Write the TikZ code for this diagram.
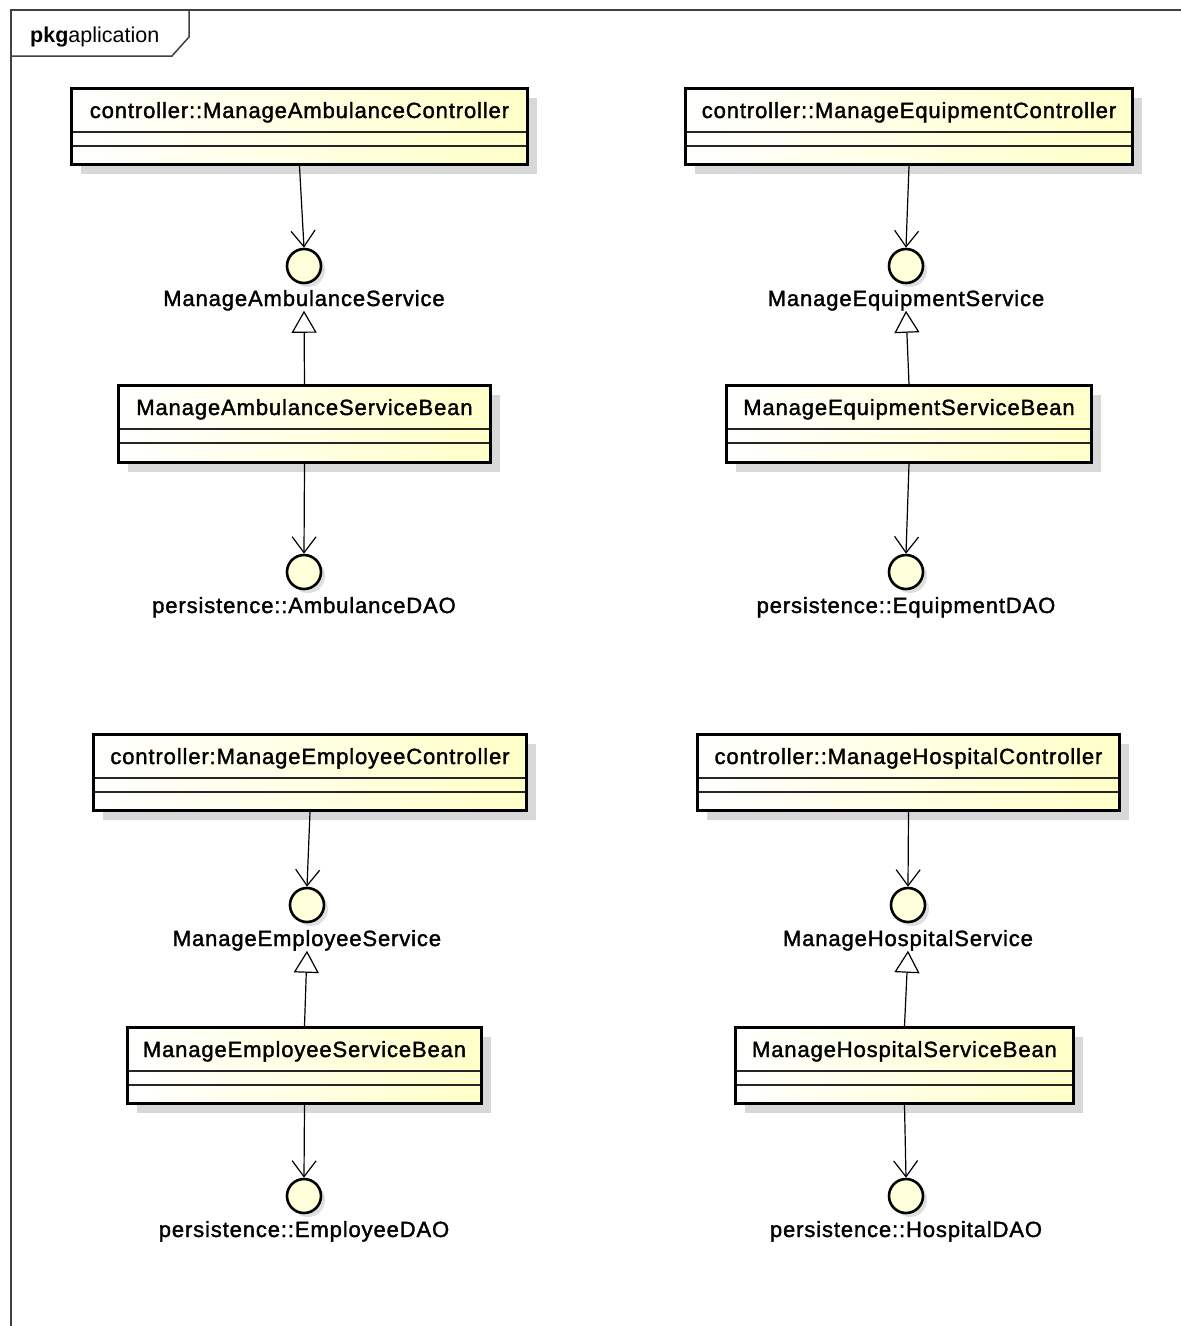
\documentclass[tikz,border=0pt]{standalone}
\usepackage{fontspec}
\setmainfont{Liberation Sans}
\newfontfamily\umlfont[LetterSpace=4,FakeBold=1.6]{Liberation Sans}
\usetikzlibrary{arrows.meta,shadows}

\definecolor{classyellow}{HTML}{FFFFC8}
\definecolor{ifaceyellow}{HTML}{FFFFDC}
\definecolor{shadowgrey}{HTML}{D8D8D8}
\definecolor{framegrey}{HTML}{404040}

\begin{document}
\begin{tikzpicture}[x=1pt,y=-1pt,
  classbox/.style={rectangle, draw=black, line width=3pt, inner sep=0pt,
    left color=white, right color=classyellow,
    drop shadow={shadow xshift=9pt, shadow yshift=-9pt, fill=shadowgrey, opacity=1},
    path picture={
      \draw[line width=1.4pt, black!85]
        ([yshift=-43.5pt]path picture bounding box.north west) --
        ([yshift=-43.5pt]path picture bounding box.north east);
      \draw[line width=1.4pt, black!85]
        ([yshift=-57.5pt]path picture bounding box.north west) --
        ([yshift=-57.5pt]path picture bounding box.north east);
    }},
  classname/.style={anchor=base, inner sep=0pt, font=\umlfont\fontsize{22}{24}\selectfont},
  iface/.style={circle, draw=black, line width=2.6pt, fill=ifaceyellow, inner sep=0pt,
    minimum size=34pt,
    drop shadow={shadow xshift=4pt, shadow yshift=-4pt, fill=shadowgrey, opacity=0.8}},
  ifacename/.style={anchor=base, inner sep=0pt, font=\umlfont\fontsize{22}{24}\selectfont},
  dep/.style={draw, line width=1.2pt,
    -{Straight Barb[length=16pt, width=24pt, line width=1.2pt]}},
  real/.style={draw, line width=1.2pt,
    -{Triangle[open, length=22pt, width=25pt, line width=1.2pt, fill=white]}},
  frameline/.style={draw=framegrey, line width=1.5pt}
]
\useasboundingbox (0,0) rectangle (1181,1326);
\fill[white] (0,0) rectangle (1181,1326);

% package frame and its tab
\draw[frameline] (11,1330) -- (11,10) -- (1185,10);
\draw[frameline] (11,56) -- (172,56) -- (189,37) -- (189,10);
\node[anchor=base west, inner sep=0pt, font=\fontsize{21.5}{24}\selectfont] (pkgname) at (30,42)
  {\textbf{pkg}aplication};

% ---------- ambulance ----------
\node[classbox, minimum width=456pt, minimum height=76pt] (ambCtrl) at (299.5,126.5) {};
\node[classname] (ambCtrlName) at ([yshift=-31pt]ambCtrl.north) {controller::ManageAmbulanceController};
\node[iface] (ambSvc) at (304,266) {};
\node[ifacename] (ambSvcName) at ([yshift=-40pt]ambSvc.center) {ManageAmbulanceService};
\node[classbox, minimum width=372pt, minimum height=77pt] (ambBean) at (304.5,424) {};
\node[classname] (ambBeanName) at ([yshift=-31pt]ambBean.north) {ManageAmbulanceServiceBean};
\node[iface] (ambDao) at (304,572) {};
\node[ifacename] (ambDaoName) at ([yshift=-41pt]ambDao.center) {persistence::AmbulanceDAO};

\draw[dep] (ambCtrl.south) -- (ambSvc.north);
\draw[real] (ambBean.north) -- (ambSvcName.south);
\draw[dep] (ambBean.south) -- (ambDao.north);

% ---------- equipment ----------
\node[classbox, minimum width=447pt, minimum height=76pt] (eqCtrl) at (909,126.5) {};
\node[classname] (eqCtrlName) at ([yshift=-31pt]eqCtrl.north) {controller::ManageEquipmentController};
\node[iface] (eqSvc) at (906,266) {};
\node[ifacename] (eqSvcName) at ([yshift=-40pt]eqSvc.center) {ManageEquipmentService};
\node[classbox, minimum width=365pt, minimum height=77pt] (eqBean) at (909,424) {};
\node[classname] (eqBeanName) at ([yshift=-31pt]eqBean.north) {ManageEquipmentServiceBean};
\node[iface] (eqDao) at (906,572) {};
\node[ifacename] (eqDaoName) at ([yshift=-41pt]eqDao.center) {persistence::EquipmentDAO};

\draw[dep] (eqCtrl.south) -- (eqSvc.north);
\draw[real] (eqBean.north) -- (eqSvcName.south);
\draw[dep] (eqBean.south) -- (eqDao.north);

% ---------- employee ----------
\node[classbox, minimum width=433pt, minimum height=76pt] (empCtrl) at (310,772.5) {};
\node[classname] (empCtrlName) at ([yshift=-31pt]empCtrl.north) {controller:ManageEmployeeController};
\node[iface] (empSvc) at (307,905) {};
\node[ifacename] (empSvcName) at ([yshift=-41pt]empSvc.center) {ManageEmployeeService};
\node[classbox, minimum width=354pt, minimum height=76pt] (empBean) at (304.5,1065.5) {};
\node[classname] (empBeanName) at ([yshift=-31pt]empBean.north) {ManageEmployeeServiceBean};
\node[iface] (empDao) at (304,1196) {};
\node[ifacename] (empDaoName) at ([yshift=-41pt]empDao.center) {persistence::EmployeeDAO};

\draw[dep] (empCtrl.south) -- (empSvc.north);
\draw[real] (empBean.north) -- (empSvcName.south);
\draw[dep] (empBean.south) -- (empDao.north);

% ---------- hospital ----------
\node[classbox, minimum width=422pt, minimum height=76pt] (hosCtrl) at (908.5,772.5) {};
\node[classname] (hosCtrlName) at ([yshift=-31pt]hosCtrl.north) {controller::ManageHospitalController};
\node[iface] (hosSvc) at (908,905) {};
\node[ifacename] (hosSvcName) at ([yshift=-41pt]hosSvc.center) {ManageHospitalService};
\node[classbox, minimum width=338pt, minimum height=76pt] (hosBean) at (904.5,1065.5) {};
\node[classname] (hosBeanName) at ([yshift=-31pt]hosBean.north) {ManageHospitalServiceBean};
\node[iface] (hosDao) at (906,1196) {};
\node[ifacename] (hosDaoName) at ([yshift=-41pt]hosDao.center) {persistence::HospitalDAO};

\draw[dep] (hosCtrl.south) -- (hosSvc.north);
\draw[real] (hosBean.north) -- (hosSvcName.south);
\draw[dep] (hosBean.south) -- (hosDao.north);
\end{tikzpicture}
\end{document}
